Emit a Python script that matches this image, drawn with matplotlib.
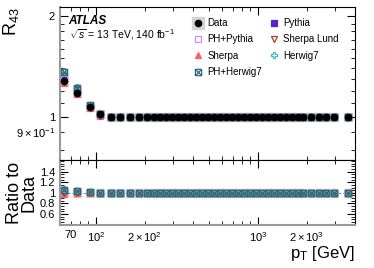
import numpy as np
import matplotlib
matplotlib.use("Agg")
import matplotlib.pyplot as plt
from matplotlib.path import Path
from matplotlib.lines import Line2D
from matplotlib.ticker import FixedLocator, MultipleLocator

plt.rcParams['font.family'] = ['Liberation Sans', 'DejaVu Sans']
plt.rcParams['mathtext.fontset'] = 'custom'
plt.rcParams['mathtext.rm'] = 'Liberation Sans'
plt.rcParams['mathtext.it'] = 'Liberation Sans:italic'

# === données ===
pt = [64, 77, 92, 106, 124, 141, 162, 184, 206, 228, 248, 270, 294, 321, 349,
      380, 414, 451, 491, 535, 583, 635, 691, 753, 820, 893, 972, 1059, 1153,
      1256, 1368, 1490, 1622, 1766, 1897, 2125, 2381, 2630, 2946, 3594]

flat = [1.0] * 36  # au-delà de ~125 GeV tout vaut 1

r43_data = [1.28, 1.18, 1.07, 1.02] + flat
r43_pythia = [1.33, 1.21, 1.08, 1.02] + flat
r43_phpythia = [1.30, 1.19, 1.07, 1.015] + flat
r43_sherpa = [1.26, 1.17, 1.065, 1.01] + flat
r43_sherpalund = [1.27, 1.17, 1.065, 1.01] + flat
r43_herwig = [1.37, 1.23, 1.09, 1.025] + flat
r43_phherwig = [1.36, 1.22, 1.085, 1.02] + flat

# marqueur carré avec croix (style ROOT)
sqx = Path([(-1, -1), (1, -1), (1, 1), (-1, 1), (-1, -1), (-1, -1), (1, 1), (-1, 1), (1, -1)],
           [Path.MOVETO, Path.LINETO, Path.LINETO, Path.LINETO, Path.LINETO,
            Path.MOVETO, Path.LINETO, Path.MOVETO, Path.LINETO])

models = [
    ("Pythia", r43_pythia, dict(marker='s', color='#5522cc', mfc='#5522cc')),
    ("PH+Pythia", r43_phpythia, dict(marker='s', color='#c98ef0', mfc='none')),
    ("Sherpa", r43_sherpa, dict(marker='^', color='#ff6060', mfc='#ff6060')),
    ("Sherpa Lund", r43_sherpalund, dict(marker='v', color='#b03a2e', mfc='none')),
    ("Herwig7", r43_herwig, dict(marker='P', color='#3cbcbc', mfc='none')),
    ("PH+Herwig7", r43_phherwig, dict(marker=sqx, color='#2f6a78', mfc='none')),
]

pt = np.array(pt)
data = np.array(r43_data)

fig = plt.figure(figsize=(3.74, 2.68), dpi=100)
ax = fig.add_axes([0.160, 0.403, 0.789, 0.571])
axr = fig.add_axes([0.160, 0.160, 0.789, 0.243], sharex=ax)

handles = {}
# data : petite boîte grise + rond noir
ax.plot(pt, data, 's', ms=5.5, color='#d4d4d4', zorder=1)
for name, vals, st in models:
    h, = ax.plot(pt, vals, ls='none', ms=4.5, mew=0.9, mec=st['color'],
                 marker=st['marker'], mfc=st['mfc'], zorder=2)
    axr.plot(pt, np.array(vals) / data, ls='none', ms=4.5, mew=0.9, mec=st['color'],
             marker=st['marker'], mfc=st['mfc'], zorder=2)
    handles[name] = h
hdat, = ax.plot(pt, data, 'o', ms=4.5, color='black', zorder=3)
hbox = Line2D([], [], ls='none', marker='s', ms=9, color='#d4d4d4')
handles["Data"] = (hbox, hdat)

axr.plot(pt, np.ones(len(pt)), 's', ms=5.5, color='#d4d4d4', zorder=1)
axr.axhline(1, color='gray', ls='--', lw=0.8, zorder=0)

order = ["Data", "PH+Pythia", "Sherpa", "PH+Herwig7", "Pythia", "Sherpa Lund", "Herwig7"]
leg = ax.legend([handles[k] for k in order], order, ncol=2, loc='upper left',
                bbox_to_anchor=(0.42, 0.985), frameon=False, fontsize=7,
                handletextpad=0.3, columnspacing=0.7, labelspacing=0.65,
                handlelength=1.2)

ax.text(0.03, 0.889, "ATLAS", transform=ax.transAxes, fontsize=8.5,
        fontweight='bold', style='italic')
ax.text(0.03, 0.797, r"$\sqrt{s}$ = 13 TeV, 140 fb$^{-1}$", transform=ax.transAxes,
        fontsize=7.5)

ax.set_xscale('log')
ax.set_yscale('log')
ax.set_xlim(60, 3970)
ax.set_ylim(0.745, 2.13)
ax.yaxis.set_major_locator(FixedLocator([1, 2]))
ax.yaxis.set_minor_locator(FixedLocator([0.8, 0.9, 1.1, 1.2, 1.3, 1.4, 1.5, 1.6, 1.7, 1.8, 1.9]))
ax.set_yticklabels(["1", "2"])
ax.yaxis.set_minor_formatter(lambda v, p: r"$9\times10^{-1}$" if abs(v - 0.9) < 1e-6 else "")
ax.set_ylabel(r"R$_{43}$", fontsize=13, loc='top')

axr.set_ylim(0.39, 1.62)
axr.yaxis.set_major_locator(FixedLocator([0.6, 0.8, 1.0, 1.2, 1.4]))
axr.set_yticklabels(["0.6", "0.8", "1", "1.2", "1.4"])
axr.yaxis.set_minor_locator(MultipleLocator(0.05))
axr.set_ylabel("Ratio to\nData", fontsize=13, linespacing=0.85)
axr.set_xlabel(r"p$_{\mathrm{T}}$ [GeV]", fontsize=12, loc='right', labelpad=0)

axr.xaxis.set_major_locator(FixedLocator([100, 1000]))
axr.xaxis.set_minor_locator(FixedLocator([70, 80, 90, 200, 300, 400, 500, 600, 700, 800, 900, 2000, 3000]))
axr.set_xticklabels([r"$10^{2}$", r"$10^{3}$"])
minlab = {70: "70", 200: r"$2\times10^{2}$", 2000: r"$2\times10^{3}$"}
axr.xaxis.set_minor_formatter(lambda v, p: minlab.get(int(round(v)), ""))
plt.setp(ax.get_xticklabels(which='both'), visible=False)

for a in (ax, axr):
    a.tick_params(which='both', direction='in', top=True, right=True, labelsize=8)
    a.tick_params(which='major', length=6)
    a.tick_params(which='minor', length=3)
    a.spines['left'].set_color('#999999')
    a.spines['left'].set_linewidth(1.5)
axr.spines['bottom'].set_color('#999999')
axr.spines['bottom'].set_linewidth(1.5)
ax.yaxis.set_label_coords(-0.13, 1.0)
axr.yaxis.set_label_coords(-0.075, 0.5)

fig.savefig("out.png", dpi=100)
